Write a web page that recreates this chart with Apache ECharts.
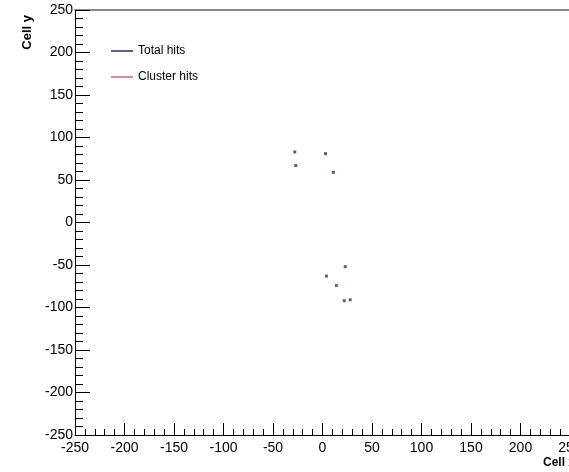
<!DOCTYPE html>
<html>
<head>
<meta charset="utf-8">
<script src="https://cdn.jsdelivr.net/npm/echarts@6/dist/echarts.min.js"></script>
<style>
  html, body { margin: 0; padding: 0; background: #fff; }
  #chart { width: 569px; height: 472px; }
</style>
</head>
<body>
<div id="chart"></div>
<script>
// hit positions (cell x, cell y)
var totalHitsX = [-28, -27, 3, 11, 23, 4, 14, 22, 28];
var totalHitsY = [83, 67, 81, 59, -52, -63, -74, -92, -91];
var clusterHitsX = [];
var clusterHitsY = [];
var axisMin = -250;
var axisMax = 250;
var axisStep = 50;

function pairs(xs, ys) {
    return xs.map(function (x, i) { return [x, ys[i]]; });
}

var font = '"Liberation Sans", Arial, sans-serif';
var myChart = echarts.init(document.getElementById('chart'));

var valueAxis = function (tickLen, minorLen, labelMargin) {
    return {
        type: 'value',
        min: axisMin,
        max: axisMax,
        interval: axisStep,
        axisLine: { show: true, onZero: false, lineStyle: { color: '#000', width: 1 } },
        axisTick: { show: true, inside: true, length: tickLen, lineStyle: { color: '#000' } },
        minorTick: { show: true, splitNumber: 5, length: minorLen, lineStyle: { color: '#000' } },
        splitLine: { show: false },
        axisLabel: { color: '#000', fontFamily: font, fontSize: 14, margin: labelMargin }
    };
};

var xMain = valueAxis(12, 6, 6);
xMain.position = 'bottom';

myChart.setOption({
    animation: false,
    backgroundColor: '#fff',
    grid: { left: 75, top: 10, width: 495, height: 425, outerBoundsMode: 'none', containLabel: false },
    xAxis: [
        xMain,
        {
            type: 'value', position: 'top', min: axisMin, max: axisMax,
            axisLine: { show: true, onZero: false, lineStyle: { color: '#8a8a8a', width: 2 } },
            axisTick: { show: false }, axisLabel: { show: false }, splitLine: { show: false }
        }
    ],
    yAxis: valueAxis(15, 8, 2),
    legend: {
        orient: 'vertical',
        left: 106,
        top: 40,
        itemGap: 14,
        itemWidth: 22,
        itemHeight: 2,
        icon: 'rect',
        textStyle: { fontFamily: font, fontSize: 12, color: '#000' },
        data: ['Total hits', 'Cluster hits']
    },
    graphic: [
        {
            type: 'text', rotation: Math.PI / 2, x: 27, y: 15,
            style: { text: 'Cell y', font: 'bold 13px ' + font, fill: '#000', textAlign: 'right', textVerticalAlign: 'middle' }
        },
        {
            type: 'text',
            style: { text: 'Cell x', x: 543, y: 457, font: 'bold 12px ' + font, fill: '#000' }
        }
    ],
    series: [
        {
            name: 'Total hits',
            type: 'scatter',
            symbol: 'rect',
            symbolSize: 3,
            itemStyle: { color: '#34347f' },
            data: pairs(totalHitsX, totalHitsY)
        },
        {
            name: 'Cluster hits',
            type: 'scatter',
            symbol: 'rect',
            symbolSize: 3,
            itemStyle: { color: '#d9707f' },
            data: pairs(clusterHitsX, clusterHitsY)
        }
    ]
});
</script>
</body>
</html>
